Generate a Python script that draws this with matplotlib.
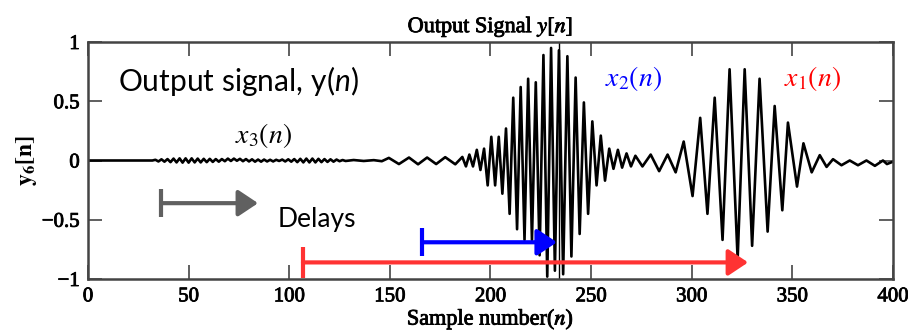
import matplotlib
matplotlib.use("Agg")
import matplotlib.pyplot as plt
import matplotlib.patheffects as pe
import numpy as np

quiet_n = [0, 32.0]
quiet_y = [0.0, 0.0]

# x3 part: very small fast ripple
x3_n = [33.5, 35.0, 36.5, 38.0, 39.5, 41.0, 42.5, 44.0, 45.5, 47.0, 48.5, 50.0,
        51.5, 53.0, 54.5, 56.0, 57.5, 59.0, 60.5, 62.0, 63.5, 65.0, 66.5, 68.0,
        69.5, 71.0, 72.5, 74.0, 75.5, 77.0, 78.5, 80.0, 81.5, 83.0, 84.5, 86.0,
        87.5, 89.0, 90.5, 92.0, 93.5, 95.0, 96.5, 98.0, 99.5, 101.0, 102.5, 104.0,
        105.5, 107.0, 108.5, 110.0, 111.5, 113.0, 114.5, 116.0, 117.5, 119.0,
        120.5, 122.0, 123.5, 125.0, 126.5, 128.0]
x3_y = [0.006, -0.008, 0.010, -0.010, 0.012, -0.014, 0.016, -0.016, 0.018, -0.018,
        0.018, -0.018, 0.018, -0.016, 0.016, -0.016, 0.014, -0.014, 0.014, -0.012,
        0.012, -0.010, 0.012, -0.006, 0.016, -0.004, 0.016, -0.002, 0.014, -0.006,
        0.012, -0.008, 0.010, -0.010, 0.008, -0.010, 0.008, -0.008, 0.006, -0.008,
        0.006, -0.004, 0.008, -0.008, 0.010, -0.010, 0.012, -0.014, 0.014, -0.016,
        0.016, -0.016, 0.016, -0.016, 0.014, -0.014, 0.012, -0.012, 0.010, -0.010,
        0.008, -0.006, 0.004, -0.004]

# slow wiggle before x2
mid_n = [132, 137, 142, 146, 149.5, 154.5, 159.5, 164, 168.5, 173, 177.5, 182.5, 186.0]
mid_y = [0.004, -0.004, 0.003, -0.006, 0.022, -0.030, 0.025, -0.032, 0.025, -0.030,
         0.028, -0.032, 0.03]

# x2 burst
x2_n = [187.8, 189.5, 191.3, 193.2, 195.0, 196.8, 198.6, 200.4, 202.3, 204.1, 205.9,
        207.7, 209.5, 211.3, 213.2, 215.0, 216.9, 218.7, 220.6, 222.5, 224.4, 226.3,
        228.2, 230.1, 232.0, 234.0, 236.1, 238.2, 240.2, 242.3, 244.3, 246.4, 248.5,
        250.6, 252.7, 254.8, 256.9, 259.0, 261.1, 263.3, 265.4, 267.6, 269.8, 272.0,
        275.5, 279.6, 283.8, 288.0, 292.0, 296.0]
x2_y = [-0.05, 0.05, -0.05, 0.09, -0.08, 0.10, -0.21, 0.20, -0.21, 0.20, -0.28,
        0.27, -0.45, 0.53, -0.58, 0.62, -0.67, 0.69, -0.67, 0.66, -0.80, 0.89,
        -0.98, 0.95, -0.93, 0.93, -0.96, 0.88, -0.81, 0.70, -0.62, 0.49, -0.45,
        0.33, -0.21, 0.21, -0.17, 0.10, -0.07, 0.09, -0.06, 0.06, -0.05, 0.04,
        -0.05, 0.05, -0.09, 0.05, -0.10, 0.16]

# x1 burst and tail
x1_n = [300.4, 304.2, 307.8, 311.4, 315.3, 318.8, 322.8, 326.3, 330.0, 333.7, 337.7,
        341.2, 345.0, 347.8, 352.3, 355.5, 359.6, 363.6, 367.0, 370.2, 374.4, 378.5,
        382.6, 386.8, 391.0, 395.0, 397.0, 400.0]
x1_y = [-0.30, 0.36, -0.45, 0.53, -0.67, 0.77, -0.83, 0.77, -0.72, 0.69, -0.60,
        0.46, -0.42, 0.32, -0.22, 0.145, -0.10, 0.045, -0.054, 0.011, -0.04, 0.0,
        -0.04, 0.0, -0.045, 0.0, -0.03, -0.01]

line_n = 234  # thin vertical line in the scan

xticks = [0, 50, 100, 150, 200, 250, 300, 350, 400]
yticks = [-1, -0.5, 0, 0.5, 1]
ytick_labels = ["\u22121", "\u22120.5", "0", "0.5", "1"]

n = np.array(quiet_n + x3_n + mid_n + x2_n + x1_n)
y = np.array(quiet_y + x3_y + mid_y + x2_y + x1_y)

plt.rcParams["font.family"] = ["Liberation Serif", "DejaVu Serif"]
plt.rcParams["mathtext.fontset"] = "stix"
plt.rcParams["mathtext.rm"] = "Lato"
plt.rcParams["mathtext.it"] = "Lato:italic"
plt.rcParams["xtick.labelsize"] = 15
plt.rcParams["ytick.labelsize"] = 15

heavy = [pe.withStroke(linewidth=0.6, foreground="black")]

fig = plt.figure(figsize=(9.08, 3.32), dpi=100)
ax = fig.add_axes([88 / 908, 53 / 332, 805 / 908, 237 / 332])

ax.plot(n, y, color="black", lw=1.9)
ax.axvline(line_n, color="black", lw=1.0)

ax.set_xlim(0, 400)
ax.set_ylim(-1, 1)
ax.tick_params(direction="in", length=10, width=1.2, top=True, right=True,
               color="#444444", pad=6)
ax.set_xticks(xticks)
ax.set_xticklabels([str(t) for t in xticks])
ax.set_yticks(yticks)
ax.set_yticklabels(ytick_labels)
for lab in ax.get_xticklabels() + ax.get_yticklabels():
    lab.set_path_effects(heavy)
for s in ax.spines.values():
    s.set_color("#444444")
    s.set_linewidth(1.8)

ax.set_title("Output Signal $y[n]$", fontsize=16, pad=7, path_effects=heavy)
ax.set_xlabel("Sample number($n$)", fontsize=16, labelpad=1, path_effects=heavy)
ax.set_ylabel(r"$\mathbf{y_6[}\mathbf{n}\mathbf{]}$", fontsize=17, labelpad=2)

# overlaid annotations
ax.text(15, 0.67, r"$\mathrm{Output\ signal,\,y(}n\mathrm{)}$", fontsize=21.5,
        va="center", ha="left", math_fontfamily="custom")
ax.text(87, 0.21, r"$x_3(n)$", fontsize=20, ha="center", va="center")
ax.text(271, 0.69, r"$x_2(n)$", fontsize=20, ha="center", va="center", color="blue")
ax.text(360, 0.69, r"$x_1(n)$", fontsize=20, ha="center", va="center", color="red")
ax.text(94, -0.5, "Delays", family="Lato", fontsize=19, ha="left", va="center")

arrows = [
    (36.3, 84.5, -0.36, 0.12, "#606060"),
    (166.0, 233.0, -0.69, 0.12, "blue"),
    (106.8, 328.0, -0.86, 0.13, "#ff3333"),
]
for x0, x1, yy, half, col in arrows:
    ax.plot([x0, x0], [yy - half, yy + half], color=col, lw=3, solid_capstyle="butt")
    ax.annotate("", xy=(x1, yy), xytext=(x0, yy),
                arrowprops=dict(arrowstyle="-|>,head_length=0.6,head_width=0.4",
                                color=col, lw=3, mutation_scale=20,
                                shrinkA=0, shrinkB=0))

fig.savefig("out.png", dpi=100)
